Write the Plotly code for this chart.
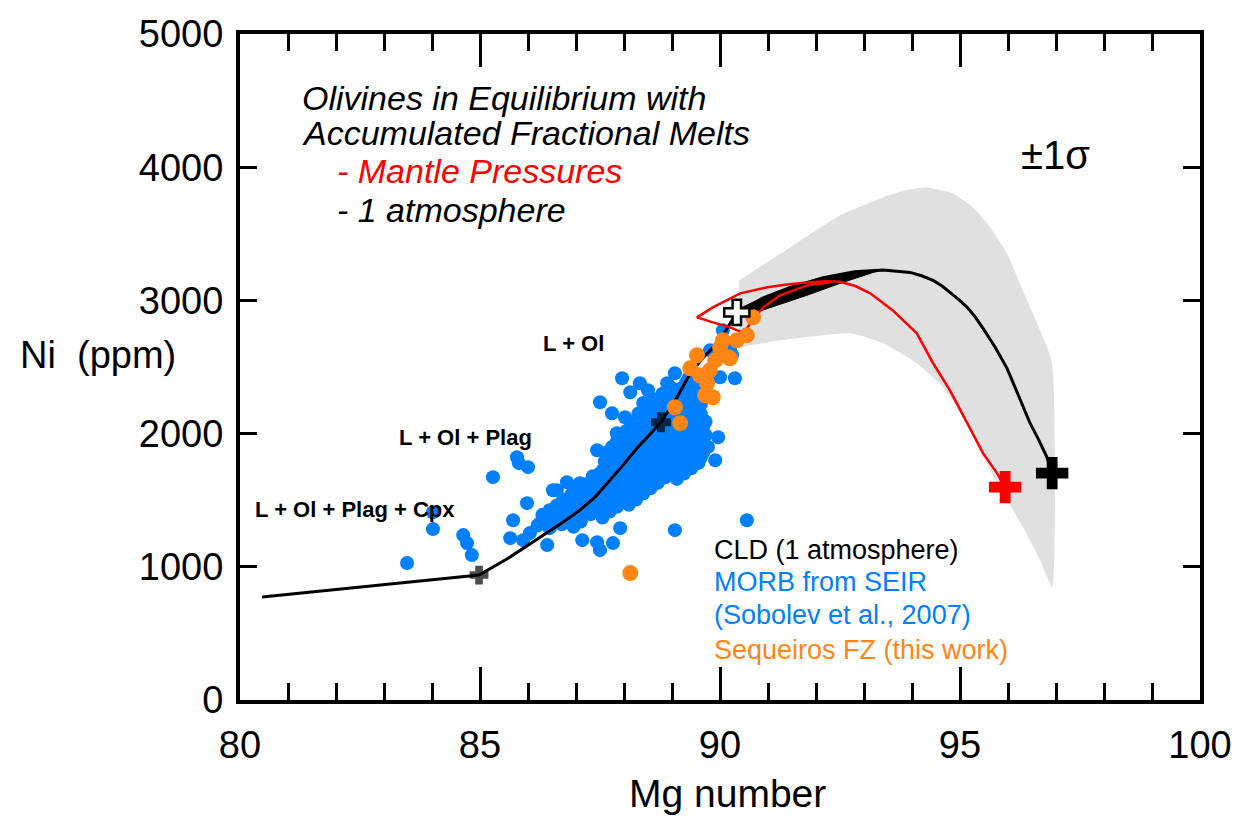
import plotly.graph_objects as go

# ---------------- data ----------------
# Liquid line of descent (1 atmosphere)
cld_mg = [80.46, 84.98, 85.56, 86.00, 86.40, 86.75, 87.08, 87.40, 87.65, 87.95, 88.27, 88.55, 88.77, 89.10, 89.38, 89.65, 89.94, 90.15, 90.35]
cld_ni = [773, 938, 1058, 1160, 1253, 1340, 1425, 1525, 1628, 1750, 1890, 2000, 2085, 2270, 2453, 2570, 2678, 2790, 2910]

# Olivines in equilibrium with accumulated fractional melts - 1 atmosphere
atm_mg = [90.35, 90.90, 91.46, 92.15, 92.80, 93.40, 93.96, 94.20, 94.44, 94.62, 94.79, 94.97, 95.15, 95.32, 95.48, 95.73, 95.98, 96.22, 96.46, 96.65, 96.81, 96.92]
atm_ni = [2910, 3020, 3098, 3170, 3215, 3228, 3210, 3185, 3150, 3110, 3060, 3008, 2948, 2875, 2790, 2650, 2490, 2290, 2078, 1945, 1823, 1703]
# spread of the 1-atmosphere family (thick band)
band_mg = [90.35, 90.90, 91.46, 92.15, 92.80, 93.40, 93.19, 92.50, 91.81, 90.90, 90.50]
band_ni = [2930, 3020, 3098, 3170, 3215, 3228, 3210, 3128, 3038, 2925, 2880]

# Mantle pressures
mp_mg = [92.29, 91.81, 91.25, 90.90, 90.67, 90.56, 90.46, 90.21, 89.85, 89.52, 89.85, 90.42,
         90.98, 91.40, 91.81, 92.20, 92.50, 92.82, 93.13, 93.60, 94.10, 94.44, 94.79, 95.15,
         95.48, 95.77, 95.94]
mp_ni = [3135, 3113, 3038, 2948, 2850, 2790, 2760, 2798, 2835, 2873, 2948, 3053,
         3098, 3120, 3135, 3143, 3140, 3108, 3053, 2925, 2753, 2528, 2325, 2078,
         1853, 1703, 1598]

# +/- 1 sigma envelope
sig_mg = [90.40, 91.46, 92.50, 93.40, 93.90, 94.31, 94.85, 95.27, 95.63, 95.98, 96.31, 96.67, 96.92,
          96.92, 96.67, 96.31, 95.83, 95.48, 95.15, 94.65, 94.10, 93.40, 92.71, 91.25, 90.40]
sig_ni = [3150, 3398, 3638, 3773, 3830, 3848, 3803, 3698, 3548, 3353, 3075, 2775, 2528,
          848, 1050, 1298, 1598, 1823, 2078, 2348, 2528, 2678, 2753, 2700, 2648]

# MORB from SEIR (Sobolev et al., 2007)
morb_mg = [83.48, 84.02, 84.02, 84.65, 84.73, 84.83, 85.27, 85.77, 85.81, 86.00, 85.69, 85.63,
           85.98, 85.90, 86.40, 86.52, 86.81, 87.13, 87.44, 87.50, 87.77, 87.92, 87.50, 87.75,
           88.02, 87.85, 87.44, 87.96, 88.13, 88.33, 88.50, 88.90, 89.06, 88.81, 89.79, 90.00,
           90.31, 90.21, 90.06, 89.96, 89.90, 90.56, 89.06, 86.04, 86.25, 86.40, 86.67, 87.02,
           86.73, 87.92, 88.02, 87.29, 88.19, 88.27, 88.27, 87.71, 87.56, 87.08, 86.60, 90.25,
           86.20, 86.45, 86.70, 86.95,
           86.30, 86.55, 86.80, 87.05, 87.30, 87.55,
           86.60, 86.85, 87.10, 87.35, 87.60, 87.85, 88.10,
           86.90, 87.15, 87.40, 87.65, 87.90, 88.15, 88.40,
           87.20, 87.45, 87.70, 87.95, 88.20, 88.45, 88.70,
           87.50, 87.75, 88.00, 88.25, 88.50, 88.75, 89.00, 89.25,
           87.80, 88.05, 88.30, 88.55, 88.80, 89.05, 89.30, 89.55,
           87.90, 88.15, 88.40, 88.65, 88.90, 89.15, 89.40, 89.65,
           88.10, 88.35, 88.60, 88.85, 89.10, 89.35, 89.60,
           88.30, 88.55, 88.80, 89.05, 89.30, 89.55,
           88.45, 88.70, 88.95, 89.20, 89.45, 89.70,
           88.75, 89.00, 89.25, 89.50,
           89.00, 89.25, 89.50,
           89.20, 89.45,
           89.35, 89.60,
           86.35, 86.60, 86.85, 87.10,
           86.45, 86.70, 86.95, 87.20, 87.45, 87.70,
           86.75, 87.00, 87.25, 87.50, 87.75, 88.00, 88.25,
           87.05, 87.30, 87.55, 87.80, 88.05, 88.30, 88.55,
           87.35, 87.60, 87.85, 88.10, 88.35, 88.60, 88.85, 89.10,
           87.65, 87.90, 88.15, 88.40, 88.65, 88.90, 89.15, 89.40,
           87.85, 88.10, 88.35, 88.60, 88.85, 89.10, 89.35, 89.60,
           88.00, 88.25, 88.50, 88.75, 89.00, 89.25, 89.50, 89.75,
           88.20, 88.45, 88.70, 88.95, 89.20, 89.45, 89.70,
           88.40, 88.65, 88.90, 89.15, 89.40, 89.65,
           88.60, 88.85, 89.10, 89.35, 89.60,
           88.90, 89.15, 89.40, 89.60,
           89.10, 89.35, 89.55,
           89.30, 89.55,
           87.60, 87.65, 87.75, 87.85, 88.00, 88.05, 88.15, 88.30, 88.40, 88.50, 88.60, 88.80, 89.00,
           86.95, 87.15, 87.35]
morb_ni = [1028, 1410, 1283, 1238, 1178, 1088, 1673, 1823, 1778, 1748, 1350, 1215,
           1478, 1200, 1163, 1575, 1635, 1200, 1185, 1125, 1178, 1290, 2235, 2153,
           2123, 2003, 1875, 2415, 2310, 2378, 2325, 2378, 2453, 2228, 2625, 2423,
           2415, 2625, 2775, 1973, 1800, 1350, 1275, 1253, 1328, 1373, 1373, 1403,
           1500, 1523, 1500, 1448, 1650, 1800, 1928, 1800, 1725, 1628, 1575, 2588,
           1310, 1290, 1320, 1300,
           1390, 1370, 1400, 1380, 1395, 1370,
           1460, 1450, 1470, 1455, 1470, 1450, 1465,
           1540, 1530, 1550, 1535, 1545, 1530, 1550,
           1620, 1610, 1630, 1615, 1625, 1610, 1630,
           1700, 1690, 1710, 1695, 1705, 1690, 1710, 1700,
           1780, 1770, 1790, 1775, 1785, 1770, 1790, 1780,
           1860, 1850, 1870, 1855, 1865, 1850, 1870, 1860,
           1940, 1930, 1950, 1935, 1945, 1930, 1950,
           2020, 2010, 2030, 2015, 2025, 2010,
           2100, 2090, 2110, 2095, 2105, 2090,
           2180, 2170, 2190, 2175,
           2260, 2250, 2270,
           2340, 2330,
           2420, 2410,
           1345, 1335, 1350, 1340,
           1425, 1415, 1430, 1420, 1425, 1415,
           1505, 1495, 1510, 1500, 1505, 1495, 1505,
           1585, 1575, 1590, 1580, 1585, 1575, 1590,
           1665, 1655, 1670, 1660, 1665, 1655, 1670, 1660,
           1745, 1735, 1750, 1740, 1745, 1735, 1750, 1740,
           1825, 1815, 1830, 1820, 1825, 1815, 1830, 1820,
           1905, 1895, 1910, 1900, 1905, 1895, 1910, 1900,
           1985, 1975, 1990, 1980, 1985, 1975, 1990,
           2065, 2055, 2070, 2060, 2065, 2055,
           2145, 2135, 2150, 2140, 2145,
           2225, 2215, 2230, 2220,
           2305, 2295, 2310,
           2385, 2375,
           1790, 1860, 1900, 1940, 1990, 2020, 2080, 2150, 2230, 2200, 2260, 2300, 2340,
           1560, 1610, 1680]

# Sequeiros FZ (this work)
seq_mg = [90.69, 90.56, 90.35, 90.06, 90.17, 89.52, 89.90, 90.21, 89.38, 89.58, 89.79,
          89.73, 89.85, 89.69, 89.06, 89.17, 88.13, 90.00]
seq_ni = [2873, 2738, 2700, 2700, 2573, 2588, 2550, 2565, 2490, 2438, 2475,
          2378, 2273, 2288, 2198, 2078, 953, 2648]

# marked points
cross_small_mg, cross_small_ni = [84.98, 88.77], [938, 2085]
cross_white_mg, cross_white_ni = [90.35], [2910]
cross_red_mg, cross_red_ni = [95.94], [1598]
cross_black_mg, cross_black_ni = [96.92], [1703]

x_ticks = [80, 85, 90, 95, 100]
y_ticks = [0, 1000, 2000, 3000, 4000, 5000]

# ---------------- figure ----------------
FONT = "Liberation Sans, Arial, sans-serif"
BLUE = "#0080FF"
ORANGE = "#FF8614"

fig = go.Figure()

fig.add_trace(go.Scatter(x=sig_mg, y=sig_ni, mode="lines", fill="toself",
                         fillcolor="#E0E0E0", line=dict(width=0, color="#E0E0E0", shape="spline", smoothing=0.5),
                         hoverinfo="skip"))
fig.add_trace(go.Scatter(x=morb_mg, y=morb_ni, mode="markers",
                         marker=dict(color=BLUE, size=14, line=dict(width=0))))
fig.add_trace(go.Scatter(x=cld_mg, y=cld_ni, mode="lines",
                         line=dict(color="black", width=3)))
fig.add_trace(go.Scatter(x=band_mg, y=band_ni, mode="lines", fill="toself",
                         fillcolor="black", line=dict(width=1, color="black")))
fig.add_trace(go.Scatter(x=atm_mg, y=atm_ni, mode="lines",
                         line=dict(color="black", width=3)))
fig.add_trace(go.Scatter(x=mp_mg, y=mp_ni, mode="lines",
                         line=dict(color="#FF0000", width=2.5)))
fig.add_trace(go.Scatter(x=seq_mg, y=seq_ni, mode="markers",
                         marker=dict(color=ORANGE, size=16, line=dict(width=0))))
fig.add_trace(go.Scatter(x=cross_small_mg, y=cross_small_ni, mode="markers",
                         marker=dict(symbol="cross", color="black", size=[14, 15],
                                     line=dict(width=2, color="black"))))
fig.add_trace(go.Scatter(x=cross_white_mg, y=cross_white_ni, mode="markers",
                         marker=dict(symbol="cross", color="white", size=21,
                                     line=dict(width=2.5, color="black"))))
fig.add_trace(go.Scatter(x=cross_red_mg, y=cross_red_ni, mode="markers",
                         marker=dict(symbol="cross", color="#FF0000", size=27, line=dict(width=0))))
fig.add_trace(go.Scatter(x=cross_black_mg, y=cross_black_ni, mode="markers",
                         marker=dict(symbol="cross", color="black", size=27, line=dict(width=0))))

def txt(x, y, s, size, color="black", xref="x", yref="y", xanchor="left"):
    fig.add_annotation(x=x, y=y, xref=xref, yref=yref, text=s, showarrow=False,
                       xanchor=xanchor, yanchor="middle",
                       font=dict(family=FONT, size=size, color=color))

txt(81.25, 4523, "<i>Olivines in Equilibrium with</i>", 34)
txt(81.25, 4260, "<i>Accumulated Fractional Melts</i>", 34)
txt(81.98, 3968, "<i>- Mantle Pressures</i>", 34, "#FF0000")
txt(81.98, 3675, "<i>- 1 atmosphere</i>", 34)
txt(96.22, 4088, "±1σ", 40)
txt(86.27, 2678, "<b>L + Ol</b>", 22)
txt(83.27, 1973, "<b>L + Ol + Plag</b>", 22)
txt(80.27, 1433, "<b>L + Ol + Plag + Cpx</b>", 22)
txt(89.83, 1125, "CLD (1 atmosphere)", 27)
txt(89.83, 885, "MORB from SEIR", 27, BLUE)
txt(89.83, 638, "(Sobolev et al., 2007)", 27, BLUE)
txt(89.83, 375, "Sequeiros FZ (this work)", 27, ORANGE)
txt(-0.148, 0.518, "Ni  (ppm)", 38, xref="paper", yref="paper", xanchor="center")
txt(0.508, -0.14, "Mg number", 39, xref="paper", yref="paper", xanchor="center")

fig.update_layout(
    width=1254, height=818,
    margin=dict(l=240, r=54, t=34, b=118),
    paper_bgcolor="white", plot_bgcolor="white",
    showlegend=False,
    font=dict(family=FONT, size=38, color="black"),
)
fig.update_xaxes(range=[80, 100], tickvals=x_ticks, ticks="inside", ticklen=33, tickwidth=3,
                 tickcolor="black", showline=True, linewidth=4, linecolor="black", mirror="ticks",
                 showgrid=False, zeroline=False, ticklabelstandoff=8,
                 minor=dict(dtick=1, ticks="inside", ticklen=17, tickwidth=3, tickcolor="black",
                            showgrid=False))
fig.update_yaxes(range=[0, 5000], tickvals=y_ticks, ticks="inside", ticklen=17, tickwidth=3,
                 tickcolor="black", showline=True, linewidth=4, linecolor="black", mirror="ticks",
                 showgrid=False, zeroline=False, ticklabelstandoff=5)

fig.write_html("out.html")
